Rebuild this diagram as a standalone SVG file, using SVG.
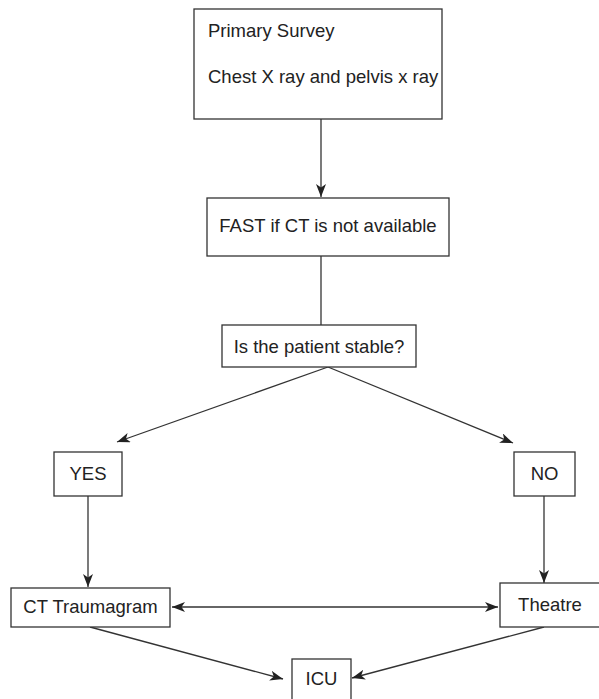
<svg xmlns="http://www.w3.org/2000/svg" width="599" height="699" viewBox="0 0 599 699">
<style>
.box{fill:#fff;stroke:#333;stroke-width:1.3}
.t{font-family:"Liberation Sans",Arial,sans-serif;font-size:18.5px;fill:#222}
.c{text-anchor:middle}
.ln{fill:none;stroke:#333;stroke-width:1.3}
</style>
<defs>
<marker id="ah" markerUnits="userSpaceOnUse" markerWidth="15" markerHeight="11" refX="13" refY="5" orient="auto-start-reverse">
<path d="M0,0 L13,5 L0,10 L3.5,5 Z" fill="#222"/>
</marker>
</defs>
<rect width="599" height="699" fill="#fff"/>
<g id="connectors">
<line class="ln" x1="321" y1="119" x2="321" y2="197" marker-end="url(#ah)"/>
<line class="ln" x1="321" y1="256" x2="321" y2="325"/>
<line class="ln" x1="328" y1="367" x2="117" y2="442" marker-end="url(#ah)"/>
<line class="ln" x1="328" y1="367" x2="513" y2="443" marker-end="url(#ah)"/>
<line class="ln" x1="88" y1="496" x2="88" y2="587" marker-end="url(#ah)"/>
<line class="ln" x1="544" y1="496" x2="544" y2="583" marker-end="url(#ah)"/>
<line class="ln" x1="172" y1="607" x2="498" y2="607" marker-start="url(#ah)" marker-end="url(#ah)"/>
<line class="ln" x1="90" y1="627" x2="283" y2="679" marker-end="url(#ah)"/>
<line class="ln" x1="544" y1="627" x2="352" y2="678" marker-end="url(#ah)"/>
</g>
<g id="primary">
<rect class="box" x="194" y="9" width="248" height="110"/>
<text class="t" x="208" y="37">Primary Survey</text>
<text class="t" x="208" y="83">Chest X ray and pelvis x ray</text>
</g>
<g id="fast">
<rect class="box" x="207" y="198" width="242" height="58"/>
<text class="t c" x="328" y="232">FAST if CT is not available</text>
</g>
<g id="stable">
<rect class="box" x="222" y="325" width="194" height="42"/>
<text class="t c" x="319" y="353">Is the patient stable?</text>
</g>
<g id="yes">
<rect class="box" x="54" y="452" width="68" height="44"/>
<text class="t c" x="88" y="480">YES</text>
</g>
<g id="no">
<rect class="box" x="514" y="452" width="61" height="44"/>
<text class="t c" x="544.5" y="480">NO</text>
</g>
<g id="ct">
<rect class="box" x="11" y="588" width="159" height="39"/>
<text class="t c" x="90.5" y="613">CT Traumagram</text>
</g>
<g id="theatre">
<rect class="box" x="500" y="583" width="102" height="44"/>
<text class="t c" x="550" y="611">Theatre</text>
</g>
<g id="icu">
<rect class="box" x="292" y="659" width="59" height="44"/>
<text class="t c" x="321.5" y="685">ICU</text>
</g>
</svg>
